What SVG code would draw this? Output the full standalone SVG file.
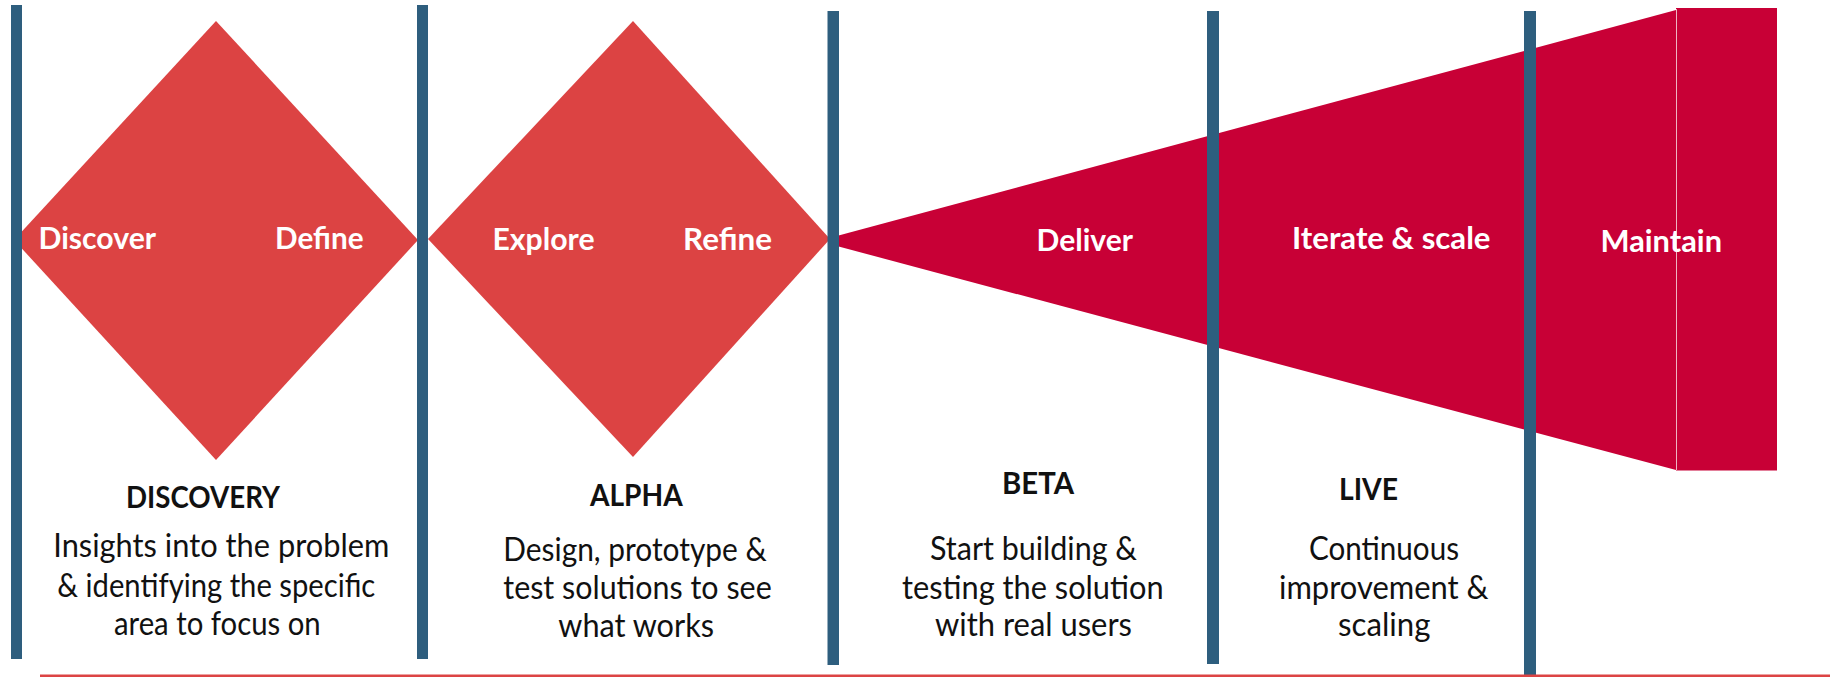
<svg xmlns="http://www.w3.org/2000/svg" width="1830" height="677" viewBox="0 0 1830 677">
  <style>
    .diamond { fill: #dc4343; }
    .funnel { fill: #c80036; }
    .bar { fill: #2e5e7e; }
    .lbl { font-family: Lato, "Liberation Sans", sans-serif; font-weight: 700; font-size: 30.5px; fill: #ffffff; }
    .head { font-family: Lato, "Liberation Sans", sans-serif; font-weight: 700; font-size: 30.5px; fill: #111111; }
    .desc { font-family: Lato, "Liberation Sans", sans-serif; font-weight: 400; font-size: 32.5px; fill: #111111; }
  </style>
  <rect x="0" y="0" width="1830" height="677" fill="#ffffff"/>

  <g id="discovery">
    <polygon class="diamond" points="216,21 418,240 216,460 14,240"/>
  </g>
  <g id="alpha">
    <polygon class="diamond" points="633,21 830,239 633,457 428,239"/>
  </g>
  <g id="delivery">
    <polygon class="funnel" points="833,237 1676,10 1676,470 833,245"/>
  </g>
  <g id="maintain">
    <rect class="funnel" x="1676" y="8" width="101" height="462.5"/>
    <line x1="1676.5" y1="9" x2="1676.5" y2="470" stroke="#eeb4c2" stroke-width="1"/>
  </g>

  <g id="dividers">
    <rect class="bar" x="11" y="5" width="11" height="654"/>
    <rect class="bar" x="417" y="5" width="11" height="654"/>
    <rect class="bar" x="827.5" y="11" width="11.5" height="654"/>
    <rect class="bar" x="1207" y="11" width="12" height="653"/>
    <rect class="bar" x="1524" y="11" width="12" height="666"/>
  </g>

  <g id="connectors">
    <line x1="40" y1="675.8" x2="1830" y2="675.8" stroke="#dc4444" stroke-width="2.4"/>
  </g>

  <g id="labels">
    <text class="lbl" x="38.5" y="249" textLength="117.5" lengthAdjust="spacingAndGlyphs">Discover</text>
    <text class="lbl" x="275" y="249" textLength="88.5" lengthAdjust="spacingAndGlyphs">Define</text>
    <text class="lbl" x="492.5" y="250" textLength="102" lengthAdjust="spacingAndGlyphs">Explore</text>
    <text class="lbl" x="683" y="250" textLength="89" lengthAdjust="spacingAndGlyphs">Refine</text>
    <text class="lbl" x="1036.5" y="250.5" textLength="96.5" lengthAdjust="spacingAndGlyphs">Deliver</text>
    <text class="lbl" x="1292" y="248.5" textLength="198.5" lengthAdjust="spacingAndGlyphs">Iterate &amp; scale</text>
    <text class="lbl" x="1600.5" y="251.5" textLength="121.5" lengthAdjust="spacingAndGlyphs">Maintain</text>
  </g>

  <g id="discovery-text">
    <text class="head" x="126" y="508.3" textLength="154" lengthAdjust="spacingAndGlyphs">DISCOVERY</text>
    <text class="desc" x="53.3" y="557.3" textLength="336" lengthAdjust="spacingAndGlyphs">Insights into the problem</text>
    <text class="desc" x="57.3" y="596.7" textLength="318" lengthAdjust="spacingAndGlyphs">&amp; identifying the specific</text>
    <text class="desc" x="114" y="635" textLength="206.7" lengthAdjust="spacingAndGlyphs">area to focus on</text>
  </g>
  <g id="alpha-text">
    <text class="head" x="590" y="506" textLength="92.7" lengthAdjust="spacingAndGlyphs">ALPHA</text>
    <text class="desc" x="503.3" y="560.7" textLength="263.4" lengthAdjust="spacingAndGlyphs">Design, prototype &amp;</text>
    <text class="desc" x="503.3" y="599.3" textLength="268.4" lengthAdjust="spacingAndGlyphs">test solutions to see</text>
    <text class="desc" x="558.3" y="636.7" textLength="155.7" lengthAdjust="spacingAndGlyphs">what works</text>
  </g>
  <g id="beta-text">
    <text class="head" x="1002" y="494" textLength="72" lengthAdjust="spacingAndGlyphs">BETA</text>
    <text class="desc" x="930" y="560" textLength="207" lengthAdjust="spacingAndGlyphs">Start building &amp;</text>
    <text class="desc" x="902" y="598.5" textLength="261.6" lengthAdjust="spacingAndGlyphs">testing the solution</text>
    <text class="desc" x="935" y="636" textLength="197" lengthAdjust="spacingAndGlyphs">with real users</text>
  </g>
  <g id="live-text">
    <text class="head" x="1339" y="499.5" textLength="59" lengthAdjust="spacingAndGlyphs">LIVE</text>
    <text class="desc" x="1309" y="560" textLength="150" lengthAdjust="spacingAndGlyphs">Continuous</text>
    <text class="desc" x="1279" y="598.5" textLength="209.5" lengthAdjust="spacingAndGlyphs">improvement &amp;</text>
    <text class="desc" x="1338" y="636" textLength="92.5" lengthAdjust="spacingAndGlyphs">scaling</text>
  </g>
</svg>
